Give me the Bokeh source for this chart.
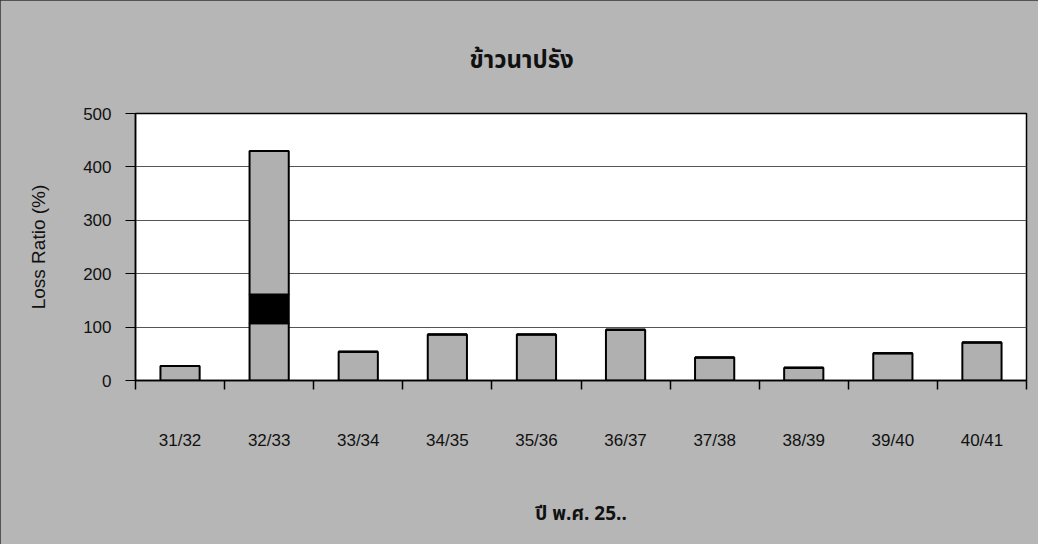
from bokeh.plotting import figure
from bokeh.models import Range1d, FixedTicker, ColumnDataSource
from bokeh.embed import file_html
from bokeh.resources import INLINE

# ---- data ----
categories = ["31/32", "32/33", "33/34", "34/35", "35/36",
              "36/37", "37/38", "38/39", "39/40", "40/41"]
lower_gray = [27, 107, 54, 86, 86, 95, 43, 24, 51, 71]
middle_black = [0, 54, 0, 0, 0, 0, 0, 0, 0, 0]
upper_gray = [0, 269, 0, 0, 0, 0, 0, 0, 0, 0]
y_ticks = [0, 100, 200, 300, 400, 500]
title_text = "ข้าวนาปรัง"
x_title = "ปี พ.ศ. 25.."
y_title = "Loss Ratio (%)"

n = len(categories)
centers = [i + 0.5 for i in range(n)]
bounds = list(range(n + 1))

src = ColumnDataSource(dict(x=centers, a=lower_gray, b=middle_black, c=upper_gray))

p = figure(width=1038, height=544, output_backend="svg", toolbar_location=None,
           x_range=Range1d(0, n), y_range=Range1d(0, 500),
           min_border_left=135, min_border_right=12,
           min_border_top=113, min_border_bottom=164,
           title=title_text)

p.styles = {"outline": "2px solid #333333", "outline-offset": "-2px"}

p.border_fill_color = "#b6b6b6"
p.background_fill_color = "white"
p.outline_line_color = "black"
p.outline_line_width = 1.5

# title
p.title.align = "left"
p.title.offset = 334
p.title.standoff = 70
p.title.text_font = "Noto Sans Thai, Noto Sans, DejaVu Sans"
p.title.text_font_size = "24px"
p.title.text_font_style = "bold"
p.title.text_color = "#111111"

# bars
p.vbar_stack(["a", "b", "c"], x="x", width=0.44, source=src,
             fill_color=["#b0b0b0", "#000000", "#b0b0b0"],
             line_color="black", line_width=2)

# grid
p.xgrid.visible = False
p.ygrid.ticker = FixedTicker(ticks=y_ticks)
p.ygrid.grid_line_color = "#555555"
p.ygrid.grid_line_width = 1

# y axis
ya = p.yaxis[0]
ya.ticker = FixedTicker(ticks=y_ticks)
ya.major_tick_out = 10
ya.major_tick_in = 0
ya.minor_tick_out = 0
ya.minor_tick_in = 0
ya.axis_line_color = "black"
ya.axis_line_width = 1.5
ya.major_tick_line_color = "black"
ya.major_label_standoff = 14
ya.major_label_text_font = "Liberation Sans"
ya.major_label_text_font_size = "17px"
ya.major_label_text_color = "#111111"
ya.axis_label = y_title
ya.axis_label_text_font = "Liberation Sans"
ya.axis_label_text_font_style = "normal"
ya.axis_label_text_font_size = "19px"
ya.axis_label_text_color = "#111111"
ya.axis_label_standoff = 31

# x axis: labels at centres, ticks at boundaries (as minor ticks)
xa = p.xaxis[0]
xa.ticker = FixedTicker(ticks=centers, minor_ticks=bounds)
xa.major_label_overrides = {c: lab for c, lab in zip(centers, categories)}
xa.major_tick_out = 0
xa.major_tick_in = 0
xa.minor_tick_out = 9
xa.minor_tick_in = 0
xa.minor_tick_line_color = "black"
xa.minor_tick_line_width = 1.5
xa.axis_line_color = "black"
xa.axis_line_width = 1.5
xa.major_label_standoff = 41
xa.major_label_text_font = "Liberation Sans"
xa.major_label_text_font_size = "17px"
xa.major_label_text_color = "#111111"
xa.axis_label = x_title
xa.axis_label_text_font = "Noto Sans Thai, Noto Sans, DejaVu Sans"
xa.axis_label_text_font_style = "bold"
xa.axis_label_text_font_size = "19px"
xa.axis_label_text_color = "#111111"
xa.axis_label_standoff = 47

open("out.html", "w").write(file_html(p, INLINE))
